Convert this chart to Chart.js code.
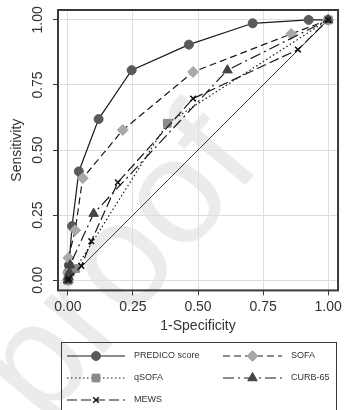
<!DOCTYPE html>
<html><head><meta charset="utf-8">
<script src="https://cdn.jsdelivr.net/npm/chart.js@4/dist/chart.umd.min.js"></script>
<style>html,body{margin:0;padding:0;background:#fff;} #wrap{width:345px;height:410px;position:relative;}</style>
</head><body><div id="wrap"><canvas id="c" width="345" height="410"></canvas></div>
<script>
// ---- data ----
const seriesNames = ['PREDICO score', 'SOFA', 'qSOFA', 'CURB-65', 'MEWS'];
const predicoFpr  = [0, 0.000, 0.004, 0.016, 0.042, 0.118, 0.245, 0.465, 0.710, 0.925, 1];
const predicoSens = [0, 0.030, 0.058, 0.208, 0.418, 0.619, 0.807, 0.905, 0.987, 1.000, 1];
const sofaFpr  = [0, 0.001, 0.002, 0.028, 0.057, 0.211, 0.481, 0.858, 1];
const sofaSens = [0, 0.030, 0.086, 0.192, 0.392, 0.577, 0.800, 0.946, 1];
const qsofaFpr  = [0, 0.004, 0.030, 0.382, 1];
const qsofaSens = [0, 0.020, 0.045, 0.603, 1];
const curbFpr  = [0, 0.002, 0.006, 0.008, 0.099, 0.613, 1];
const curbSens = [0, 0.012, 0.030, 0.058, 0.256, 0.807, 1];
const mewsFpr  = [0, 0.003, 0.052, 0.090, 0.192, 0.481, 0.884, 1];
const mewsSens = [0, 0.006, 0.055, 0.150, 0.376, 0.698, 0.886, 1];
const refFpr  = [0, 1];
const refSens = [0, 1];
const tickValues = [0, 0.25, 0.5, 0.75, 1];
const tickLabels = ['0.00', '0.25', '0.50', '0.75', '1.00'];
const xTitle = '1-Specificity';
const yTitle = 'Sensitivity';
const watermark = 'proof';

const pts = (xs, ys) => xs.map((x, i) => ({x: x, y: ys[i]}));
const FONT = "'Liberation Sans', Arial, sans-serif";

const styles = [
  {borderDash: [], pointStyle: 'circle', pointRadius: 4.5, color: '#5a5a5a'},
  {borderDash: [7, 4], pointStyle: 'rectRot', pointRadius: 5.5, color: '#a9a9a9'},
  {borderDash: [1.5, 2.5], pointStyle: 'rect', pointRadius: 5.5, color: '#8a8a8a'},
  {borderDash: [11, 4, 2, 4], pointStyle: 'triangle', pointRadius: 5.5, color: '#454545'},
  {borderDash: [10, 4], pointStyle: 'crossRot', pointRadius: 4, color: '#111111'}
];
const seriesData = [
  pts(predicoFpr, predicoSens), pts(sofaFpr, sofaSens), pts(qsofaFpr, qsofaSens),
  pts(curbFpr, curbSens), pts(mewsFpr, mewsSens)
];

const datasets = [{
  label: 'reference', data: pts(refFpr, refSens), showLine: true,
  borderColor: '#3c3c3c', borderWidth: 1, pointRadius: 0, order: 10
}];
seriesNames.forEach((name, i) => {
  const s = styles[i];
  datasets.push({
    label: name, data: seriesData[i], showLine: true,
    borderColor: '#1a1a1a', borderWidth: 1.2, borderDash: s.borderDash,
    pointStyle: s.pointStyle, pointRadius: s.pointRadius, pointHoverRadius: s.pointRadius,
    pointBackgroundColor: s.color, pointBorderColor: s.color,
    pointBorderWidth: s.pointStyle === 'crossRot' ? 1.5 : 1,
    order: 5 - i
  });
});

const fixedTicks = (scale) => { scale.ticks = tickValues.map(v => ({value: v})); };

const decor = {
  id: 'decor',
  beforeDraw(chart) {
    const ctx = chart.ctx;
    ctx.save();
    ctx.fillStyle = '#ffffff';
    ctx.fillRect(0, 0, chart.width, chart.height);
    ctx.translate(122, 268);
    ctx.rotate(-50 * Math.PI / 180);
    ctx.font = '150px ' + FONT;
    ctx.fillStyle = '#ebebeb';
    ctx.textAlign = 'center';
    ctx.textBaseline = 'middle';
    ctx.fillText(watermark, 0, 0);
    ctx.restore();
  },
  afterDraw(chart) {
    const ctx = chart.ctx;
    const a = chart.chartArea;
    const ys = chart.scales.y;
    ctx.save();
    // frame
    ctx.strokeStyle = '#3a3a3a';
    ctx.lineWidth = 2;
    ctx.strokeRect(a.left, a.top, a.right - a.left, a.bottom - a.top);
    // rotated y tick labels
    ctx.fillStyle = '#333';
    ctx.font = '14px ' + FONT;
    ctx.textAlign = 'center';
    ctx.textBaseline = 'middle';
    tickValues.forEach((v, i) => {
      ctx.save();
      ctx.translate(38.5, ys.getPixelForValue(v));
      ctx.rotate(-Math.PI / 2);
      ctx.fillText(tickLabels[i], 0, 0);
      ctx.restore();
    });
    // legend
    ctx.strokeStyle = '#3a3a3a';
    ctx.lineWidth = 1;
    ctx.strokeRect(61.5, 342.5, 275, 100);
    const cols = [{x0: 67, x1: 125, tx: 134}, {x0: 223, x1: 282, tx: 291}];
    const rows = [356, 378, 400];
    ctx.font = '9px ' + FONT;
    ctx.textAlign = 'left';
    seriesNames.forEach((name, i) => {
      const c = cols[i % 2], y = rows[Math.floor(i / 2)];
      const ds = chart.data.datasets[i + 1];
      ctx.save();
      ctx.strokeStyle = '#1a1a1a';
      ctx.lineWidth = 1.2;
      ctx.setLineDash(ds.borderDash);
      ctx.beginPath();
      ctx.moveTo(c.x0, y); ctx.lineTo(c.x1, y);
      ctx.stroke();
      ctx.setLineDash([]);
      ctx.fillStyle = '#ffffff';
      const mx = (c.x0 + c.x1) / 2;
      ctx.fillStyle = ds.pointBackgroundColor;
      ctx.strokeStyle = ds.pointBorderColor;
      ctx.lineWidth = ds.pointBorderWidth;
      Chart.helpers.drawPoint(ctx, {pointStyle: ds.pointStyle, radius: ds.pointRadius, rotation: 0, borderWidth: ds.pointBorderWidth}, mx, y);
      ctx.restore();
      ctx.fillStyle = '#333';
      ctx.textBaseline = 'middle';
      ctx.fillText(name, c.tx, y);
    });
    ctx.restore();
  }
};

new Chart(document.getElementById('c'), {
  type: 'scatter',
  data: {datasets: datasets},
  plugins: [decor],
  options: {
    responsive: false, animation: false, devicePixelRatio: 1,
    layout: {padding: {left: 0, right: 5, top: 10, bottom: 71}},
    plugins: {legend: {display: false}, tooltip: {enabled: false}},
    scales: {
      x: {
        type: 'linear', min: -0.038, max: 1.038,
        afterBuildTicks: fixedTicks,
        grid: {color: '#dedede', lineWidth: 1, drawTicks: true, tickLength: 5, tickColor: '#3a3a3a'},
        border: {display: false},
        ticks: {color: '#333', font: {family: FONT, size: 14}, padding: 3,
                callback: (v) => tickLabels[tickValues.indexOf(v)] ?? ''},
        title: {display: true, text: xTitle, color: '#333', font: {family: FONT, size: 14}, padding: {top: 0, bottom: 4}}
      },
      y: {
        type: 'linear', min: -0.039, max: 1.038,
        afterBuildTicks: fixedTicks,
        afterFit: (s) => { s.width = 58; },
        grid: {color: '#dedede', lineWidth: 1, drawTicks: true, tickLength: 5, tickColor: '#3a3a3a'},
        border: {display: false},
        ticks: {display: false},
        title: {display: true, text: yTitle, color: '#333', font: {family: FONT, size: 14}, padding: {top: 8.6, bottom: 0}}
      }
    }
  }
});
</script>
</body></html>
